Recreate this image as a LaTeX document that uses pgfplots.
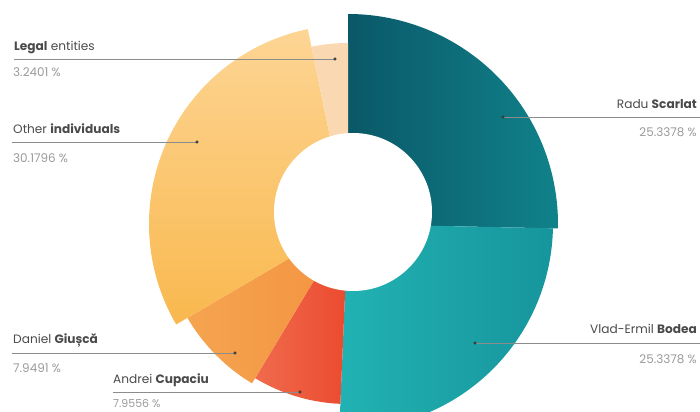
\documentclass[border=0pt]{standalone}
\usepackage{pgfplots}
\pgfplotsset{compat=1.18}
\usepackage{fontspec}
\setmainfont{Poppins}
\definecolor{raduA}{HTML}{0A5868}
\definecolor{raduB}{HTML}{10828A}
\definecolor{bodeaA}{HTML}{22B2B3}
\definecolor{bodeaB}{HTML}{16959C}
\definecolor{andreiA}{HTML}{F06B4C}
\definecolor{andreiB}{HTML}{EB4A2F}
\definecolor{danielA}{HTML}{F5A450}
\definecolor{danielB}{HTML}{F39340}
\definecolor{otherA}{HTML}{FDD594}
\definecolor{otherB}{HTML}{F9B84E}
\definecolor{legal}{HTML}{FAD9B2}
\definecolor{namec}{HTML}{4A4A4A}
\definecolor{pctc}{HTML}{9A9A9A}
\definecolor{linec}{HTML}{8C8C8C}
\definecolor{dotc}{HTML}{3A3A3A}
\begin{document}
\begin{tikzpicture}
\path[use as bounding box] (0,0) rectangle (700bp,412bp);
\begin{axis}[
  x=1bp, y=1bp, xmin=0, xmax=700, ymin=0, ymax=412,
  disabledatascaling, hide axis, clip=false,
  anchor=origin, at={(0,0)},
]
% slices: share (%) -> angle span = share*3.6 deg, clockwise from 90 deg
% Radu Scarlat 25.3378, Vlad-Ermil Bodea 25.3378, Andrei Cupaciu 7.9556,
% Daniel Giusca 7.9491, Other individuals 30.1796, Legal entities 3.2401
\shade[left color=raduA, right color=raduB] (axis cs:348,188) -- ++(90:210bp) arc[start angle=90, end angle=-1.216, radius=210bp] -- cycle;
\shade[left color=bodeaA, right color=bodeaB] (axis cs:348,188) -- ++(-1.216:205bp) arc[start angle=-1.216, end angle=-92.432, radius=205bp] -- cycle;
\shade[left color=andreiA, right color=andreiB] (axis cs:348,188) -- ++(-92.432:180bp) arc[start angle=-92.432, end angle=-121.072, radius=180bp] -- cycle;
\shade[left color=danielA, right color=danielB] (axis cs:348,188) -- ++(-121.072:186bp) arc[start angle=-121.072, end angle=-149.689, radius=186bp] -- cycle;
\shade[top color=otherA, bottom color=otherB] (axis cs:348,188) -- ++(-149.689:199bp) arc[start angle=-149.689, end angle=-258.336, radius=199bp] -- cycle;
\fill[legal] (axis cs:348,188) -- ++(-258.336:181bp) arc[start angle=-258.336, end angle=-270, radius=181bp] -- cycle;
\fill[white] (axis cs:353,200) circle[radius=79bp];
% leader lines
\addplot[linec, line width=0.9pt] coordinates {(14,353) (335,353)};
\addplot[linec, line width=0.9pt] coordinates {(12,270) (197,270)};
\addplot[linec, line width=0.9pt] coordinates {(503,295) (700,295)};
\addplot[linec, line width=0.9pt] coordinates {(475,69) (700,69)};
\addplot[linec, line width=0.9pt] coordinates {(12,59) (235,59)};
\addplot[linec, line width=0.9pt] coordinates {(113,20) (300,20)};
\addplot[only marks, mark=*, mark size=1.4pt, dotc] coordinates {(335,353) (197,270) (503,295) (475,69) (235,59) (300,20)};
% labels
\node[anchor=base west, inner sep=0, text=namec, font=\fontsize{12.2}{14}\selectfont] at (axis cs:14,362) {\textbf{Legal} entities};
\node[anchor=base west, inner sep=0, text=pctc, font=\fontsize{12}{14}\selectfont] at (axis cs:13,336) {3.2401 \%};
\node[anchor=base west, inner sep=0, text=namec, font=\fontsize{12.2}{14}\selectfont] at (axis cs:13,279) {Other \textbf{individuals}};
\node[anchor=base west, inner sep=0, text=pctc, font=\fontsize{12}{14}\selectfont] at (axis cs:13,250) {30.1796 \%};
\node[anchor=base east, inner sep=0, text=namec, font=\fontsize{12.2}{14}\selectfont] at (axis cs:697,304) {Radu \textbf{Scarlat}};
\node[anchor=base east, inner sep=0, text=pctc, font=\fontsize{12}{14}\selectfont] at (axis cs:697,276) {25.3378 \%};
\node[anchor=base east, inner sep=0, text=namec, font=\fontsize{12.2}{14}\selectfont] at (axis cs:697,79) {Vlad-Ermil \textbf{Bodea}};
\node[anchor=base east, inner sep=0, text=pctc, font=\fontsize{12}{14}\selectfont] at (axis cs:697,49) {25.3378 \%};
\node[anchor=base west, inner sep=0, text=namec, font=\fontsize{12.2}{14}\selectfont] at (axis cs:13,69) {Daniel \textbf{Giușcă}};
\node[anchor=base west, inner sep=0, text=pctc, font=\fontsize{12}{14}\selectfont] at (axis cs:13,40) {7.9491 \%};
\node[anchor=base west, inner sep=0, text=namec, font=\fontsize{12.2}{14}\selectfont] at (axis cs:113,29) {Andrei \textbf{Cupaciu}};
\node[anchor=base west, inner sep=0, text=pctc, font=\fontsize{11}{13}\selectfont] at (axis cs:113,4.5) {7.9556 \%};
\end{axis}
\end{tikzpicture}
\end{document}
